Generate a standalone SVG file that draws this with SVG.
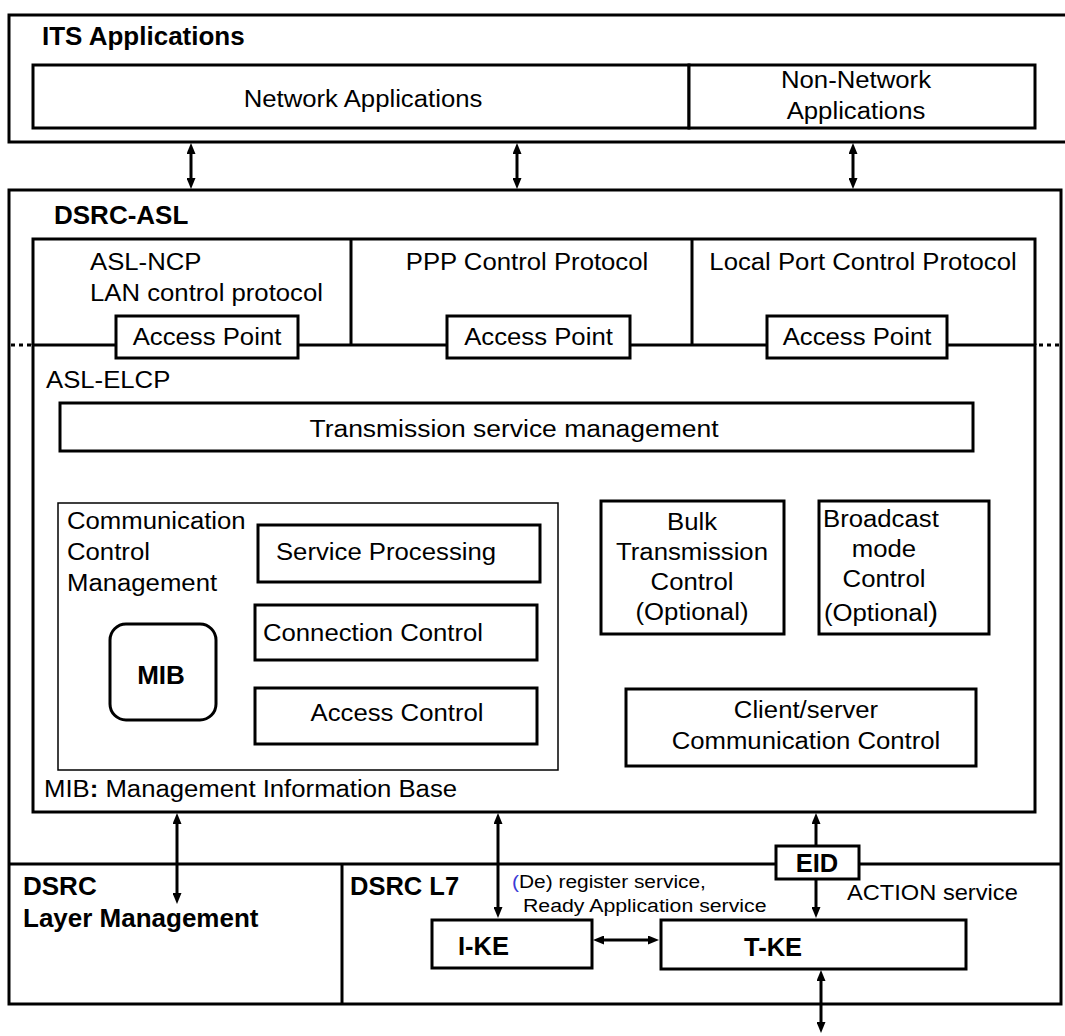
<svg xmlns="http://www.w3.org/2000/svg" width="1065" height="1036" viewBox="0 0 1065 1036">
  <defs>
    <marker id="ah" viewBox="0 0 11 9" refX="1" refY="4.5" markerWidth="11" markerHeight="9" markerUnits="userSpaceOnUse" orient="auto-start-reverse">
      <path d="M0,0 L11,4.5 L0,9 z" fill="#000"/>
    </marker>
    <style>
      .box{fill:#fff;stroke:#000;stroke-width:3}
      .frame{fill:none;stroke:#000;stroke-width:3}
      .thin{fill:none;stroke:#000;stroke-width:1.5}
      .t{font-family:"Liberation Sans",Arial,sans-serif;font-size:24.5px;fill:#000}
      .b{font-weight:bold;font-size:25px}
      .m{text-anchor:middle}
      .s{font-size:19px}
      .a{font-size:21.5px}
      .dot{stroke:#000;stroke-width:3;stroke-dasharray:4 4}
      .arr{stroke:#000;stroke-width:3;fill:none}
      .both{marker-start:url(#ah);marker-end:url(#ah)}
      .end{marker-end:url(#ah)}
    </style>
  </defs>
  <rect width="1065" height="1036" fill="#fff"/>

  <!-- ITS application layer -->
  <g id="its-applications">
    <rect class="frame" x="9" y="15" width="1080" height="127"/>
    <text class="t b" transform="translate(42,45) scale(1.04,1)">ITS Applications</text>
  </g>
  <g id="network-applications">
    <rect class="box" x="33" y="65" width="656" height="63"/>
    <text class="t m" transform="translate(363,107) scale(1.05,1)">Network Applications</text>
  </g>
  <g id="non-network-applications">
    <rect class="box" x="689" y="65" width="346" height="63"/>
    <text class="t m" transform="translate(856,88) scale(1.05,1)">Non-Network</text>
    <text class="t m" transform="translate(856,119) scale(1.05,1)">Applications</text>
  </g>

  <!-- DSRC-ASL frame -->
  <g id="dsrc-asl">
    <rect class="frame" x="9" y="190" width="1052" height="814"/>
    <text class="t b" transform="translate(54,224) scale(1.04,1)">DSRC-ASL</text>
    <line class="frame" x1="9" y1="864" x2="1061" y2="864"/>
  </g>

  <!-- Network control protocols -->
  <g id="ncp-frame">
    <path class="frame" d="M33,345 V239 H1035 V345 M351,239 V345 M692,239 V345"/>
    <line class="dot" x1="11" y1="345" x2="32" y2="345"/>
    <line class="dot" x1="1039" y1="345" x2="1062" y2="345"/>
  </g>
  <g id="asl-ncp">
    <text class="t" transform="translate(90,270) scale(1.05,1)">ASL-NCP</text>
    <text class="t" transform="translate(90,301) scale(1.05,1)">LAN control protocol</text>
  </g>
  <g id="ppp-control-protocol">
    <text class="t m" transform="translate(527,270) scale(1.05,1)">PPP Control Protocol</text>
  </g>
  <g id="local-port-control-protocol">
    <text class="t m" transform="translate(863,270) scale(1.05,1)">Local Port Control Protocol</text>
  </g>

  <!-- ELCP -->
  <g id="asl-elcp">
    <rect class="frame" x="33" y="345" width="1002" height="467"/>
    <text class="t" transform="translate(46,388) scale(1.05,1)">ASL-ELCP</text>
    <text class="t" transform="translate(44,797) scale(1.05,1)">MIB<tspan font-weight="bold">:</tspan> Management Information Base</text>
  </g>

  <g id="access-point-1">
    <rect class="box" x="116" y="316" width="182" height="42"/>
    <text class="t m" transform="translate(207,345) scale(1.05,1)">Access Point</text>
  </g>
  <g id="access-point-2">
    <rect class="box" x="447" y="316" width="183" height="42"/>
    <text class="t m" transform="translate(538.5,345) scale(1.05,1)">Access Point</text>
  </g>
  <g id="access-point-3">
    <rect class="box" x="767" y="316" width="180" height="42"/>
    <text class="t m" transform="translate(857,345) scale(1.05,1)">Access Point</text>
  </g>

  <g id="transmission-service-management">
    <rect class="box" x="60" y="403" width="913" height="48"/>
    <text class="t m" transform="translate(514,437) scale(1.08,1)">Transmission service management</text>
  </g>

  <g id="communication-control-management">
    <rect class="thin" x="58" y="503" width="500" height="267"/>
    <text class="t" transform="translate(67,529) scale(1.05,1)">Communication</text>
    <text class="t" transform="translate(67,560) scale(1.05,1)">Control</text>
    <text class="t" transform="translate(67,591) scale(1.05,1)">Management</text>
  </g>
  <g id="service-processing">
    <rect class="box" x="258" y="525" width="282" height="57"/>
    <text class="t m" transform="translate(386,560) scale(1.05,1)">Service Processing</text>
  </g>
  <g id="connection-control">
    <rect class="box" x="255" y="605" width="282" height="55"/>
    <text class="t m" transform="translate(373,641) scale(1.05,1)">Connection Control</text>
  </g>
  <g id="access-control">
    <rect class="box" x="255" y="688" width="282" height="56"/>
    <text class="t m" transform="translate(397,721) scale(1.05,1)">Access Control</text>
  </g>
  <g id="mib">
    <rect class="box" x="110" y="624" width="106" height="96" rx="16"/>
    <text class="t b m" transform="translate(161,684) scale(1.04,1)">MIB</text>
  </g>

  <g id="bulk-transmission-control">
    <rect class="box" x="601" y="501" width="183" height="133"/>
    <text class="t m" transform="translate(692,530) scale(1.05,1)">Bulk</text>
    <text class="t m" transform="translate(692,560) scale(1.05,1)">Transmission</text>
    <text class="t m" transform="translate(692,590) scale(1.05,1)">Control</text>
    <text class="t m" transform="translate(692,620) scale(1.05,1)">(Optional)</text>
  </g>
  <g id="broadcast-mode-control">
    <rect class="box" x="819" y="501" width="170" height="133"/>
    <text class="t" transform="translate(823,527) scale(1.05,1)">Broadcast</text>
    <text class="t m" transform="translate(884,557) scale(1.05,1)">mode</text>
    <text class="t m" transform="translate(884,587) scale(1.05,1)">Control</text>
    <text class="t" transform="translate(824,621) scale(1.05,1)">(Optional<tspan font-size="28">)</tspan></text>
  </g>
  <g id="client-server-communication-control">
    <rect class="box" x="626" y="689" width="350" height="77"/>
    <text class="t m" transform="translate(806,718) scale(1.05,1)">Client/server</text>
    <text class="t m" transform="translate(806,749) scale(1.05,1)">Communication Control</text>
  </g>

  <!-- Lower layers -->
  <g id="dsrc-layer-management">
    <text class="t b" transform="translate(23,895) scale(1.04,1)">DSRC</text>
    <text class="t b" transform="translate(23,927) scale(1.04,1)">Layer Management</text>
  </g>
  <g id="dsrc-l7">
    <line class="frame" x1="342" y1="864" x2="342" y2="1004"/>
    <text class="t b" transform="translate(350,895) scale(1.02,1)">DSRC L7</text>
    <text class="t s" transform="translate(512,888) scale(1.1,1)"><tspan fill="#3b3bd6">(</tspan>De) register service,</text>
    <text class="t s" transform="translate(523,912) scale(1.12,1)">Ready Application service</text>
    <text class="t a" transform="translate(847,900) scale(1.1,1)">ACTION service</text>
  </g>
  <g id="i-ke">
    <rect class="box" x="432" y="920" width="160" height="48"/>
    <text class="t b" transform="translate(458,955) scale(1.02,1)">I-KE</text>
  </g>
  <g id="t-ke">
    <rect class="box" x="661" y="920" width="305" height="49"/>
    <text class="t b m" transform="translate(773,956) scale(1.02,1)">T-KE</text>
  </g>

  <!-- Connectors -->
  <g id="connectors">
    <line class="arr both" x1="191" y1="153" x2="191" y2="179"/>
    <line class="arr both" x1="517" y1="153" x2="517" y2="179"/>
    <line class="arr both" x1="853" y1="153" x2="853" y2="179"/>
    <line class="arr both" x1="177" y1="823" x2="177" y2="894"/>
    <line class="arr both" x1="498" y1="823" x2="498" y2="908"/>
    <line class="arr end" x1="816" y1="846" x2="816" y2="823"/>
    <line class="arr end" x1="816" y1="879" x2="816" y2="908"/>
    <line class="arr both" x1="603" y1="940" x2="649" y2="940"/>
    <line class="arr both" x1="821" y1="980" x2="821" y2="1023"/>
  </g>

  <g id="eid">
    <rect class="box" x="776" y="846" width="83" height="33"/>
    <text class="t b m" transform="translate(817,872) scale(1.02,1)">EID</text>
  </g>
</svg>
